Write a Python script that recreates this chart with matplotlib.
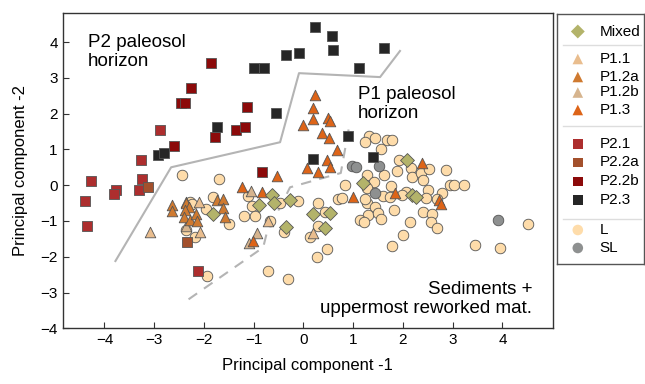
import matplotlib
matplotlib.use("Agg")
import matplotlib.pyplot as plt

plt.rcParams['font.family'] = ['Liberation Sans', 'DejaVu Sans']

# ---- data ----
mixed_x = [-1.82, -0.89, -0.63, -0.59, -0.27, 0.19, 0.53, -0.35, 0.43, 1.19, 2.08, 2.18, 2.26]
mixed_y = [-0.81, -0.56, -0.28, -0.50, -0.42, -0.81, -0.78, -1.17, -1.20, 0.06, 0.70, -0.28, -0.34]

p11_x = [-3.08, -2.10, -2.08, -0.71, 0.19]
p11_y = [-1.31, -0.48, -1.31, -1.01, -1.34]

p12a_x = [-2.64, -2.64, -2.36, -2.30, -2.38, -2.40, -2.28, -2.16, -2.14, -1.74, -1.62, -1.62, -1.58]
p12a_y = [-0.56, -0.73, -0.50, -0.62, -0.70, -0.90, -0.98, -0.81, -1.01, -0.42, -0.39, -0.64, -0.90]

p12b_x = [-2.36, -2.36, -1.05, -0.93, -1.09]
p12b_y = [-0.48, -1.15, -0.17, -1.34, -1.62]

p13_x = [0.23, 0.19, 0.19, -0.01, 0.49, 0.53, 0.37, 0.51, 0.67, 0.47, 0.07, 0.29, 0.53,
         -0.53, 2.38, 1.84, 2.72, 2.76, 0.99, -0.83, -1.23, -1.01]
p13_y = [2.52, 2.15, 1.85, 1.68, 1.87, 1.79, 1.45, 1.31, 0.98, 0.70, 0.48, 0.36, 0.50,
         0.25, 0.62, -0.22, -0.42, -0.53, -0.34, -0.20, -0.06, -1.57]

p21_x = [-2.88, -3.26, -4.27, -3.77, -3.81, -3.24, -3.30, -4.39, -4.35, -2.12]
p21_y = [1.54, 0.70, 0.11, -0.14, -0.25, 0.17, -0.14, -0.45, -1.15, -2.41]

p22a_x = [-3.12, -2.34]
p22a_y = [-0.06, -1.59]

p22b_x = [-1.86, -2.26, -2.46, -2.38, -1.13, -1.36, -1.17, -1.78, -2.60, -0.83]
p22b_y = [3.41, 2.71, 2.29, 2.29, 2.18, 1.54, 1.62, 1.34, 1.09, 0.36]

p23_x = [0.23, 0.57, -0.35, -0.09, 0.59, 1.62, -0.99, -0.79, 1.11, -0.55, -1.74, -2.92, -2.80, 0.89, 0.19, 1.40]
p23_y = [4.42, 4.17, 3.64, 3.69, 3.78, 3.83, 3.27, 3.27, 3.27, 2.01, 1.62, 0.84, 0.90, 1.37, 0.73, 0.78]

l_x = [-2.44, -1.70, -2.28, -2.24, -1.82, -1.96, -1.50, -2.36, -2.18, -1.94, -1.11, -1.03, -1.19,
       -0.97, -0.71, -0.31, -0.47, -0.11, -0.67, -0.39, 0.13, 1.32, 1.44, 1.23, 1.68, 1.78, 1.56,
       1.92, 1.28, 1.62, 1.88, 2.16, 2.18, 2.36, 2.52, 2.86, 2.40, 0.83, 1.42, 1.76, 2.94, 3.02,
       3.22, 2.50, 2.78, 2.06, 1.98, 1.60, 1.74, 2.46, 2.68, 0.69, 0.77, 1.28, 1.44, 0.29, 0.43,
       1.30, 1.50, 1.56, 1.82, 1.13, 1.21, 2.14, 2.40, 2.58, 2.56, 2.68, 0.29, 2.00, 4.51, 3.44,
       3.95, 1.78, 0.47, 0.27, 1.27, 1.23]
l_y = [0.28, 0.17, -0.48, -0.53, -0.34, -0.67, -1.09, -1.26, -1.45, -2.55, -0.31, -0.59, -0.87,
       -0.87, -2.41, -2.63, -0.50, -0.45, -1.01, -1.31, -1.45, 1.37, 1.31, 1.20, 1.26, 1.26, 1.01,
       0.70, 0.28, 0.28, 0.39, 0.48, 0.22, 0.34, 0.45, 0.42, 0.14, 0.00, 0.08, -0.03, 0.00, 0.00,
       0.00, -0.14, -0.22, -0.20, -0.28, -0.31, -0.34, -0.36, -0.39, -0.39, -0.36, -0.50, -0.62,
       -0.50, -0.76, -0.84, -0.78, -0.95, -0.70, -0.98, -1.03, -1.03, -0.76, -0.81, -1.03, -1.20,
       -1.15, -1.40, -1.09, -1.68, -1.76, -1.71, -1.79, -2.01, -0.09, -0.40]

sl_x = [0.97, 1.05, 1.52, 1.44, 3.91]
sl_y = [0.53, 0.50, 0.53, -0.22, -0.98]

# boundary lines
solid_x = [-3.78, -2.66, -0.47, -0.09, 1.54, 1.94]
solid_y = [-2.12, 0.50, 1.20, 3.13, 3.02, 3.75]
dash_x = [-2.31, -0.81, -0.71, -0.47, -0.27, 0.75, 0.93]
dash_y = [-3.19, -1.74, -1.18, -0.62, -0.06, 0.34, 1.73]

groups = [
    ("Mixed", mixed_x, mixed_y, "D", "#b3b36a", 50),
    ("P1.1", p11_x, p11_y, "^", "#e9bd8e", 58),
    ("P1.2a", p12a_x, p12a_y, "^", "#cf7a30", 58),
    ("P1.2b", p12b_x, p12b_y, "^", "#d6b48e", 58),
    ("P1.3", p13_x, p13_y, "^", "#dd6418", 58),
    ("P2.1", p21_x, p21_y, "s", "#ad2e2e", 50),
    ("P2.2a", p22a_x, p22a_y, "s", "#a3502c", 50),
    ("P2.2b", p22b_x, p22b_y, "s", "#8c0a0a", 50),
    ("P2.3", p23_x, p23_y, "s", "#262626", 50),
    ("L", l_x, l_y, "o", "#fedcaa", 58),
    ("SL", sl_x, sl_y, "o", "#8e9090", 58),
]
draw_order = ["L", "SL", "P1.1", "P1.2b", "P1.2a", "P1.3", "Mixed", "P2.1", "P2.2a", "P2.2b", "P2.3"]

fig = plt.figure(figsize=(6.45, 3.84), dpi=100)
ax = fig.add_axes([0.0972, 0.145, 0.7597, 0.822])

ax.plot(solid_x, solid_y, color="#b4b4b4", lw=1.5, zorder=1)
ax.plot(dash_x, dash_y, color="#b4b4b4", lw=1.5, ls=(0, (5, 4)), zorder=1)

gd = {g[0]: g for g in groups}
for name in draw_order:
    _, gx, gy, m, c, s = gd[name]
    ax.scatter(gx, gy, marker=m, s=s, c=c, edgecolors="#555555", linewidths=0.6, zorder=3)

ax.set_xlim(-4.84, 5.01)
ax.set_ylim(-4.0, 4.82)
ax.set_xticks(range(-4, 5))
ax.set_yticks(range(-4, 5))
ax.tick_params(direction="in", length=4, labelsize=11, color="#333333")
for sp in ax.spines.values():
    sp.set_color("#333333")
    sp.set_linewidth(1.0)
ax.set_xlabel("Principal component -1", fontsize=12, labelpad=8)
ax.set_ylabel("Principal component -2", fontsize=12, labelpad=9)

ax.text(-4.33, 4.22, "P2 paleosol\nhorizon", fontsize=13.5, va="top", ha="left", linespacing=1.15)
ax.text(1.09, 2.76, "P1 paleosol\nhorizon", fontsize=13.5, va="top", ha="left", linespacing=1.15)
ax.text(4.60, -2.68, "Sediments +\nuppermost reworked mat.", fontsize=13.5, va="top", ha="right",
        linespacing=1.15)

# legend panel
lax = fig.add_axes([557.3 / 645, 1 - 263.5 / 384, 87 / 645, 249.5 / 384])
lax.set_xlim(0, 87)
lax.set_ylim(249.5, 0)
lax.set_xticks([])
lax.set_yticks([])
for sp in lax.spines.values():
    sp.set_color("#555555")
    sp.set_linewidth(1.0)
leg_y = [17.5, 45, 63, 78.5, 96, 130, 148.5, 167.5, 186, 216, 234]
for (name, _, _, m, c, s), yy in zip(groups, leg_y):
    lax.scatter([20.5], [yy], marker=m, s=s, c=c, edgecolors="none")
    lax.text(42, yy, name, fontsize=11, va="center", ha="left")
for yy in [30.5, 112.5, 205]:
    lax.plot([6, 84], [yy, yy], color="#dddddd", lw=1)

fig.savefig("out.png", dpi=100)
